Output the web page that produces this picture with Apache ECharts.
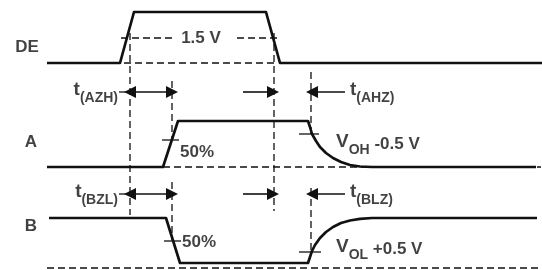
<!DOCTYPE html>
<html>
<head>
<meta charset="utf-8">
<script src="https://cdn.jsdelivr.net/npm/echarts@6/dist/echarts.min.js"></script>
<style>
  html, body { margin: 0; padding: 0; background: #fff; }
  #chart { width: 542px; height: 270px; }
</style>
</head>
<body>
<div id="chart"></div>
<script>
// waveforms, in picture units (x right, y down)
var deWave = [[47, 63], [120, 63], [134, 12], [266, 12], [280, 63], [542, 63]];
var aWave = [[47, 167], [163, 167], [178, 121], [308, 121], [310, 127], [312, 134], [316, 141], [320, 147],
    [326, 153], [333, 158], [341, 162], [350, 165], [360, 166.5], [372, 167], [536, 167]];
var bWave = [[49, 218], [166, 218], [180, 263], [308, 263], [310, 257], [312, 251], [315, 245], [320, 238],
    [326, 232], [333, 227], [341, 223], [350, 220.5], [360, 218.8], [372, 218], [537, 218]];

// dashed reference lines
var dashed = [
    [[121, 38], [172, 38]], [[237, 38], [281, 38]],
    [[124, 63], [276, 63]],
    [[163, 167], [541, 167]],
    [[47, 268], [541, 268]],
    [[130, 33], [130, 215]],
    [[274, 33], [274, 211]],
    [[172, 81], [172, 140]],
    [[172, 182], [172, 240]],
    [[311, 72], [311, 134]],
    [[311, 188], [311, 253]]
];

// small solid threshold ticks and leaders
var ticks = [
    [[162, 140], [179, 140]],
    [[299, 134], [319, 134]],
    [[164, 241], [181, 241]],
    [[299, 252], [321, 252]],
    [[119, 92], [130, 92]],
    [[119, 194], [130, 194]]
];

// timing arrows: [from, to, both ends?]
var arrows = [
    [[130, 92], [172, 92], true],
    [[243, 92], [273, 92], false],
    [[345, 92], [312, 92], false],
    [[130, 194], [172, 194], true],
    [[243, 194], [273, 194], false],
    [[345, 194], [312, 194], false]
];

// text labels: [x, y, text, align]
var labels = [
    [27, 47, '{b|DE}', 'center'],
    [31, 142, '{b|A}', 'center'],
    [31, 226, '{b|B}', 'center'],
    [201, 38, '{b|1.5 V}', 'center'],
    [180, 152, '{b|50%}', 'left'],
    [182, 242, '{b|50%}', 'left'],
    [118, 92, '{t|t}{s|(AZH)}', 'right'],
    [350, 92, '{t|t}{s|(AHZ)}', 'left'],
    [118, 194, '{t|t}{s|(BZL)}', 'right'],
    [350, 194, '{t|t}{s|(BLZ)}', 'left'],
    [336, 144, '{t|V}{s|OH}{b| -0.5 V}', 'left'],
    [336, 249, '{t|V}{s|OL}{b| +0.5 V}', 'left']
];

var ink = '#111';
var font = 'Liberation Sans, Arial, sans-serif';

var dom = document.getElementById('chart');
var myChart = echarts.init(dom, null, { renderer: 'canvas' });

var series = [];

function lineSeries(data, width, dash) {
    return {
        type: 'line',
        data: data,
        symbol: 'none',
        silent: true,
        animation: false,
        lineStyle: { color: ink, width: width, type: dash ? dash : 'solid', cap: 'butt', join: 'round' }
    };
}

dashed.forEach(function (seg) {
    series.push(lineSeries(seg, 1.3, [7, 4]));
});
ticks.forEach(function (seg) {
    series.push(lineSeries(seg, 1.3));
});
[deWave, aWave, bWave].forEach(function (w) {
    series.push(lineSeries(w, 2.7));
});

series.push({
    type: 'lines',
    coordinateSystem: 'cartesian2d',
    silent: true,
    animation: false,
    symbolSize: [12, 12],
    lineStyle: { color: ink, width: 1.6, opacity: 1 },
    data: arrows.map(function (a) {
        return {
            coords: [a[0], a[1]],
            symbol: a[2] ? ['triangle', 'triangle'] : ['none', 'triangle']
        };
    })
});

series.push({
    type: 'scatter',
    symbolSize: 0,
    silent: true,
    animation: false,
    data: labels.map(function (l) {
        return {
            value: [l[0], l[1]],
            label: {
                show: true,
                position: 'inside',
                align: l[3],
                verticalAlign: 'middle',
                formatter: l[2],
                color: ink,
                fontFamily: font,
                rich: {
                    b: { fontSize: 17, fontWeight: 'bold', color: ink, fontFamily: font },
                    t: { fontSize: 19, fontWeight: 'bold', color: ink, fontFamily: font, padding: [0, 0, 5, 0] },
                    s: { fontSize: 14, fontWeight: 'bold', color: ink, fontFamily: font, padding: [13, 0, 0, 0] }
                }
            }
        };
    })
});

var option = {
    animation: false,
    grid: { left: 0, right: 0, top: 0, bottom: 0 },
    xAxis: { type: 'value', min: 0, max: 542, show: false },
    yAxis: { type: 'value', min: 0, max: 270, inverse: true, show: false },
    series: series
};

myChart.setOption(option);
window.addEventListener('resize', myChart.resize);
</script>
</body>
</html>
